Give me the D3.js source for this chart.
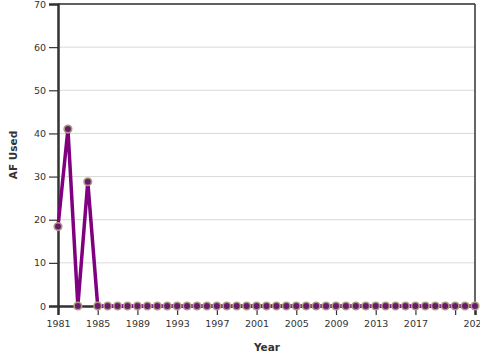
<!DOCTYPE html>
<html>
<head>
<meta charset="utf-8">
<script src="https://cdn.jsdelivr.net/npm/d3@7"></script>
<style>
  body { margin: 0; background: #fff; }
  text { font-family: "DejaVu Sans", sans-serif; }
</style>
</head>
<body>
<div id="chart"></div>
<script>
// data
const years = d3.range(1981, 2024);
const afUsed = [18.4, 41, 0, 28.8].concat(d3.range(1985, 2024).map(() => 0));
const yTicks = [0, 10, 20, 30, 40, 50, 60, 70];
const xTicks = [1981, 1985, 1989, 1993, 1997, 2001, 2005, 2009, 2013, 2017, 2021, 2023];
const hiddenLabels = [2021];

const DrawChart = () => {
  let width = 480;
  let height = 360;
  let margin = { "top": 4, "bottom": 54, "right": 5, "left": 58 };

  let svg = d3.select("#chart").append("svg").attr("width", width).attr("height", height);

  let xScale = d3.scaleLinear()
    .domain([1981, 2023])
    .range([margin.left, width - margin.right]);
  let yScale = d3.scaleLinear()
    .domain([0, 70])
    .range([height - margin.bottom, margin.top]);

  // grid
  svg.append("g")
    .selectAll("line")
    .data(yTicks)
    .enter()
    .append("line")
    .attr("x1", margin.left)
    .attr("x2", width - margin.right)
    .attr("y1", d => yScale(d))
    .attr("y2", d => yScale(d))
    .attr("stroke", "#d9d9d9")
    .attr("stroke-width", 1);

  // frame top / right
  svg.append("line")
    .attr("x1", margin.left).attr("x2", width - margin.right)
    .attr("y1", margin.top).attr("y2", margin.top)
    .attr("stroke", "#333").attr("stroke-width", 1.5);
  svg.append("line")
    .attr("x1", width - margin.right).attr("x2", width - margin.right)
    .attr("y1", margin.top).attr("y2", height - margin.bottom)
    .attr("stroke", "#333").attr("stroke-width", 1.5);

  // axes
  let axisx = d3.axisBottom(xScale)
    .tickValues(xTicks)
    .tickFormat(d => hiddenLabels.includes(d) ? "" : d)
    .tickSize(9)
    .tickPadding(5);
  let axisy = d3.axisLeft(yScale)
    .tickValues(yTicks)
    .tickSize(9)
    .tickPadding(3);

  let gx = svg.append("g")
    .attr("transform", "translate(0," + (height - margin.bottom) + ")")
    .call(axisx);
  gx.select(".domain").attr("stroke", "#333").attr("stroke-width", 2.5);
  gx.selectAll(".tick line").attr("stroke", "#333").attr("stroke-width", 1.2);
  gx.selectAll(".tick text").attr("fill", "#333").attr("font-size", "9.5px");

  let gy = svg.append("g")
    .attr("transform", "translate(" + margin.left + ",0)")
    .call(axisy);
  gy.select(".domain").attr("stroke", "#333").attr("stroke-width", 2.5);
  gy.selectAll(".tick line").attr("stroke", "#333").attr("stroke-width", 1.2);
  gy.selectAll(".tick text").attr("fill", "#333").attr("font-size", "9.5px");

  svg.append("text")
    .attr("x", 267)
    .attr("y", 351)
    .attr("text-anchor", "middle")
    .attr("font-size", "10.5px")
    .attr("font-weight", "bold")
    .attr("fill", "#333")
    .text("Year");

  svg.append("text")
    .attr("transform", "translate(17," + 155 + ") rotate(-90)")
    .attr("text-anchor", "middle")
    .attr("font-size", "10.5px")
    .attr("font-weight", "bold")
    .attr("fill", "#333")
    .text("AF Used");

  const dataset = years.map((y, i) => [y, afUsed[i]]);

  svg.append("path")
    .datum(dataset)
    .attr("fill", "none")
    .attr("stroke", "#800080")
    .attr("stroke-width", 3.5)
    .attr("d", d3.line()
      .x(d => xScale(d[0]))
      .y(d => yScale(d[1])));

  svg.append("g")
    .selectAll("circle")
    .data(dataset)
    .enter()
    .append("circle")
    .attr("cx", d => xScale(d[0]))
    .attr("cy", d => yScale(d[1]))
    .attr("r", 3.8)
    .attr("fill", "#6b1a6b")
    .attr("stroke", "#a99f80")
    .attr("stroke-width", 1.6);
}

DrawChart();
</script>
</body>
</html>
